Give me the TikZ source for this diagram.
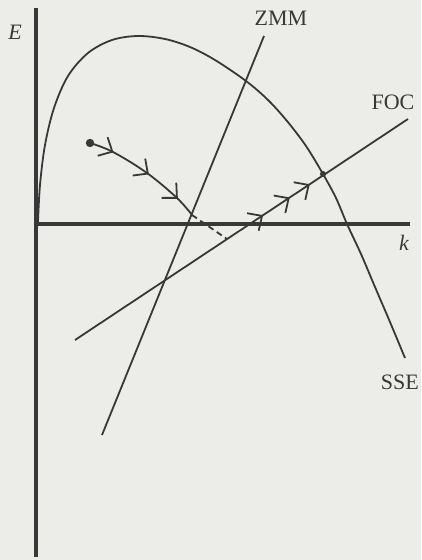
\documentclass[tikz,border=0pt]{standalone}
\usepackage{fontspec}
\setmainfont{Liberation Serif}
\usetikzlibrary{arrows.meta,decorations.markings}
\definecolor{ink}{HTML}{383838}
\definecolor{paper}{HTML}{ECEDE8}
\tikzset{
  axisline/.style={draw=ink, line width=4.2pt},
  curveline/.style={draw=ink, line width=1.8pt},
  dashline/.style={draw=ink, line width=1.8pt, dash pattern=on 6pt off 4pt},
  lbl/.style={text=ink, font=\fontsize{22}{25}\selectfont, inner sep=0pt},
  chevtip/.tip={Straight Barb[length=11pt,width=21pt,line width=1.8pt]},
}
\begin{document}
\begin{tikzpicture}[x=1pt,y=-1pt]
\fill[paper] (0,0) rectangle (421,560);
\useasboundingbox (0,0) rectangle (421,560);
% axes
\coordinate (otop) at (36,8);
\coordinate (obot) at (36,557);
\coordinate (o) at (34,224);
\coordinate (kend) at (410,224);
\draw[axisline] (otop) -- (obot);
\draw[axisline] (o) -- (kend);
% labels
\node[lbl, font=\fontsize{22}{25}\selectfont\itshape] (E) at (15,32) {E};
\node[lbl, font=\fontsize{22}{25}\selectfont\itshape] (k) at (404,243) {k};
\node[lbl] (ZMM) at (281,18) {ZMM};
\node[lbl] (FOC) at (393,102) {FOC};
\node[lbl, anchor=east] (SSE) at (419,382) {SSE};
% SSE hump curve
\draw[curveline] plot[smooth, tension=0.55] coordinates {(38,222) (40,185) (45,145) (54,108) (68,76) (88,53) (112,40) (138,36) (165,39) (190,47) (215,60) (246,81) (268,100) (287,121) (306,146) (323,174) (336,198) (347,224) (361,254) (375,287) (390,322) (405,358)};
% ZMM line
\coordinate (zt) at (264,36);
\coordinate (zb) at (102,435);
\draw[curveline] (zt) -- (zb);
% FOC line
\coordinate (ft) at (408,119);
\coordinate (fb) at (75,340);
\draw[curveline, decoration={markings,
    mark=at position 0.565 with {\arrow{chevtip}},
    mark=at position 0.645 with {\arrow{chevtip}},
    mark=at position 0.705 with {\arrow{chevtip}}},
    postaction={decorate}] (fb) -- (ft);
% steady state dot
\coordinate (ss) at (323,174);
\fill[ink] (ss) circle (3);
% trajectory
\coordinate (t0) at (90,143);
\coordinate (t1) at (113,152);
\coordinate (t2) at (147,173);
\coordinate (t3) at (177,198);
\coordinate (t4) at (192,215);
\coordinate (t5) at (227,239);
\fill[ink] (t0) circle (4.2);
\draw[curveline, decoration={markings,
    mark=at position 0.2 with {\arrow{chevtip}},
    mark=at position 0.53 with {\arrow{chevtip}},
    mark=at position 0.83 with {\arrow{chevtip}}},
    postaction={decorate}]
  plot[smooth, tension=0.6] coordinates {(t0) (t1) (t2) (t3) (t4)};
\draw[dashline] (t4) -- (t5);
\end{tikzpicture}
\end{document}
